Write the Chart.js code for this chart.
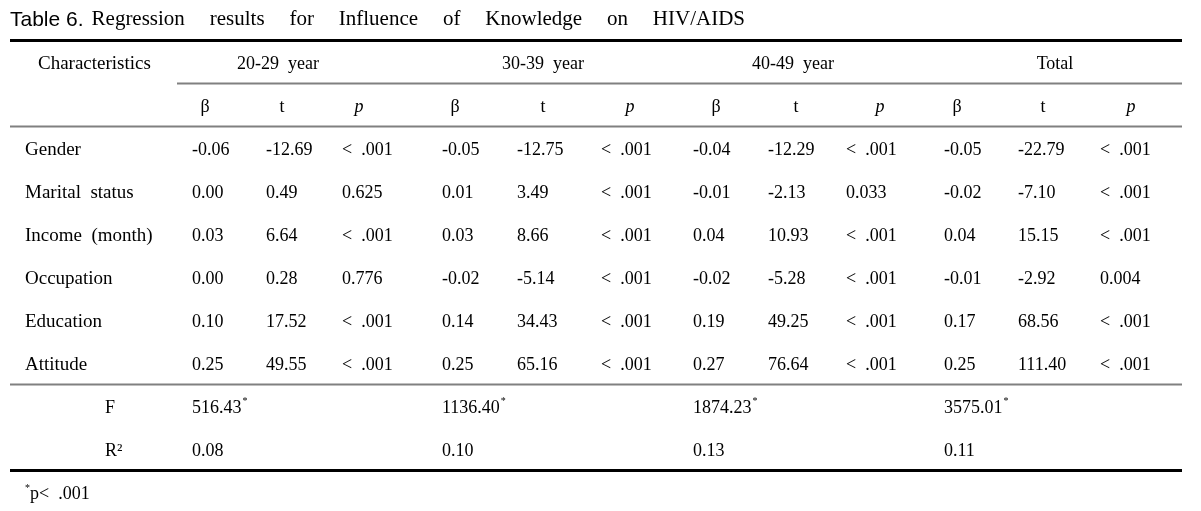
<!DOCTYPE html>
<html>
<head>
<meta charset="utf-8">
<script src="https://cdn.jsdelivr.net/npm/chart.js@4/dist/chart.umd.min.js"></script>
<style>
  html, body { margin: 0; padding: 0; background: #fff; }
  canvas { display: block; }
</style>
</head>
<body>
<canvas id="table" width="1201" height="511"></canvas>
<script>
// table content
var titleLabel = 'Table 6.';
var titleText = 'Regression results for Influence of Knowledge on HIV/AIDS';
var groups = ['20-29  year', '30-39  year', '40-49  year', 'Total'];
var statHeads = ['\u03b2', 't', 'p'];
var characteristics = ['Gender', 'Marital  status', 'Income  (month)', 'Occupation', 'Education', 'Attitude'];

var beta20 = [-0.06, 0.00, 0.03, 0.00, 0.10, 0.25];
var t20 = [-12.69, 0.49, 6.64, 0.28, 17.52, 49.55];
var p20 = ['<  .001', '0.625', '<  .001', '0.776', '<  .001', '<  .001'];

var beta30 = [-0.05, 0.01, 0.03, -0.02, 0.14, 0.25];
var t30 = [-12.75, 3.49, 8.66, -5.14, 34.43, 65.16];
var p30 = ['<  .001', '<  .001', '<  .001', '<  .001', '<  .001', '<  .001'];

var beta40 = [-0.04, -0.01, 0.04, -0.02, 0.19, 0.27];
var t40 = [-12.29, -2.13, 10.93, -5.28, 49.25, 76.64];
var p40 = ['<  .001', '0.033', '<  .001', '<  .001', '<  .001', '<  .001'];

var betaTotal = [-0.05, -0.02, 0.04, -0.01, 0.17, 0.25];
var tTotal = [-22.79, -7.10, 15.15, -2.92, 68.56, 111.40];
var pTotal = ['<  .001', '<  .001', '<  .001', '0.004', '<  .001', '<  .001'];

var fValues = [516.43, 1136.40, 1874.23, 3575.01];
var r2Values = [0.08, 0.10, 0.13, 0.11];
var footnote = 'p<  .001';

// layout (x positions in canvas units, rows come from the category scale)
var rows = ['title', 'group', 'stat'].concat(characteristics, ['F', 'R\u00b2', 'note']);
var labelX = 25, headLabelX = 38, fLabelX = 105;
var colStartX = [192, 266, 342, 442, 517, 601, 693, 768, 846, 944, 1018, 1100];
var headCenterX = [205, 282, 359, 455, 543, 630, 716, 796, 880, 957, 1043, 1131];
var groupCenterX = [278, 543, 793, 1055];
var ruleLeft = 10, ruleRight = 1182, subRuleLeft = 177;
var textDrop = 2;

var SERIF = '"Liberation Serif", "Times New Roman", serif';
var SANS = '"Liberation Sans", Arial, sans-serif';

function fmt(v) { return typeof v === 'number' ? v.toFixed(2) : v; }

var valueColumns = [
    [beta20, t20, p20],
    [beta30, t30, p30],
    [beta40, t40, p40],
    [betaTotal, tTotal, pTotal]
];

var datasets = [];

// row labels
datasets.push({
    label: 'rowLabels',
    align: 'left',
    size: 19,
    data: characteristics.map(function (c) { return { x: labelX, y: c, text: c }; })
        .concat([{ x: headLabelX, y: 'group', text: 'Characteristics' }])
});
datasets.push({
    label: 'fitLabels',
    align: 'left',
    data: [
        { x: fLabelX, y: 'F', text: 'F' },
        { x: fLabelX, y: 'R\u00b2', text: 'R\u00b2' }
    ]
});

// group headers
datasets.push({
    label: 'groups',
    align: 'center',
    data: groups.map(function (g, i) { return { x: groupCenterX[i], y: 'group', text: g }; })
});

// stat headers and value columns
valueColumns.forEach(function (cols, g) {
    cols.forEach(function (values, s) {
        var c = g * 3 + s;
        datasets.push({
            label: 'head' + c,
            align: 'center',
            italic: statHeads[s] === 'p',
            data: [{ x: headCenterX[c], y: 'stat', text: statHeads[s] }]
        });
        datasets.push({
            label: 'col' + c,
            align: 'left',
            data: values.map(function (v, i) {
                return { x: colStartX[c], y: characteristics[i], text: fmt(v) };
            })
        });
    });
});

// F and R2 rows
datasets.push({
    label: 'F',
    align: 'left',
    star: true,
    data: fValues.map(function (v, i) { return { x: colStartX[i * 3], y: 'F', text: v.toFixed(2) }; })
});
datasets.push({
    label: 'R2',
    align: 'left',
    data: r2Values.map(function (v, i) { return { x: colStartX[i * 3], y: 'R\u00b2', text: v.toFixed(2) }; })
});

// footnote and title
datasets.push({
    label: 'note',
    align: 'left',
    note: true,
    data: [{ x: labelX, y: 'note', text: footnote }]
});
datasets.push({
    label: 'title',
    align: 'left',
    title: true,
    data: [{ x: ruleLeft, y: 'title', text: titleText }]
});

datasets.forEach(function (d) {
    d.pointRadius = 0;
    d.pointHoverRadius = 0;
    d.showLine = false;
});

function drawTitle(ctx, x, y, right) {
    ctx.font = '21px ' + SANS;
    ctx.textAlign = 'left';
    ctx.fillText(titleLabel, x, y + 1);
    var start = x + ctx.measureText(titleLabel).width + 8;
    ctx.font = '21px ' + SERIF;
    var words = titleText.split(' ');
    var total = 0;
    words.forEach(function (w) { total += ctx.measureText(w).width; });
    var gap = (right - start - total) / (words.length - 1);
    var cx = start;
    words.forEach(function (w) {
        ctx.fillText(w, cx, y);
        cx += ctx.measureText(w).width + gap;
    });
}

var tablePlugin = {
    id: 'tableText',
    beforeDatasetsDraw: function (chart) {
        var ctx = chart.ctx;
        var yScale = chart.scales.y;
        var rule = function (idx, left, width, color) {
            var y = yScale.getPixelForValue(idx);
            ctx.save();
            ctx.strokeStyle = color;
            ctx.lineWidth = width;
            ctx.beginPath();
            ctx.moveTo(left, y);
            ctx.lineTo(ruleRight, y);
            ctx.stroke();
            ctx.restore();
        };
        rule(0.5, ruleLeft, 3, '#000');
        rule(1.5, subRuleLeft, 2, '#808080');
        rule(2.5, ruleLeft, 2, '#808080');
        rule(rows.indexOf('Attitude') + 0.5, ruleLeft, 2, '#808080');
        rule(rows.indexOf('R\u00b2') + 0.5, ruleLeft, 3, '#000');
    },
    afterDatasetsDraw: function (chart) {
        var ctx = chart.ctx;
        ctx.save();
        ctx.fillStyle = '#000';
        ctx.textBaseline = 'middle';
        chart.data.datasets.forEach(function (ds, di) {
            var meta = chart.getDatasetMeta(di);
            meta.data.forEach(function (pt, i) {
                var item = ds.data[i];
                var y = pt.y + textDrop;
                if (ds.title) {
                    drawTitle(ctx, pt.x, pt.y, 745);
                    return;
                }
                ctx.font = (ds.italic ? 'italic ' : '') + (ds.size || 18) + 'px ' + SERIF;
                ctx.textAlign = ds.align;
                if (ds.note) {
                    ctx.font = '10px ' + SERIF;
                    ctx.fillText('*', pt.x, y - 6);
                    ctx.font = '18px ' + SERIF;
                    ctx.fillText(item.text, pt.x + 5, y);
                    return;
                }
                ctx.fillText(item.text, pt.x, y);
                if (ds.star) {
                    var w = ctx.measureText(item.text).width;
                    ctx.font = '10px ' + SERIF;
                    ctx.fillText('*', pt.x + w + 1, y - 7);
                }
            });
        });
        ctx.restore();
    }
};

new Chart(document.getElementById('table').getContext('2d'), {
    type: 'scatter',
    data: { datasets: datasets },
    options: {
        responsive: false,
        animation: false,
        devicePixelRatio: 1,
        layout: { padding: { top: 19, bottom: 19, left: 0, right: 0 } },
        plugins: { legend: { display: false }, tooltip: { enabled: false } },
        events: [],
        scales: {
            x: { type: 'linear', min: 0, max: 1201, display: false },
            y: { type: 'category', labels: rows, offset: false, display: false }
        }
    },
    plugins: [tablePlugin]
});
</script>
</body>
</html>
